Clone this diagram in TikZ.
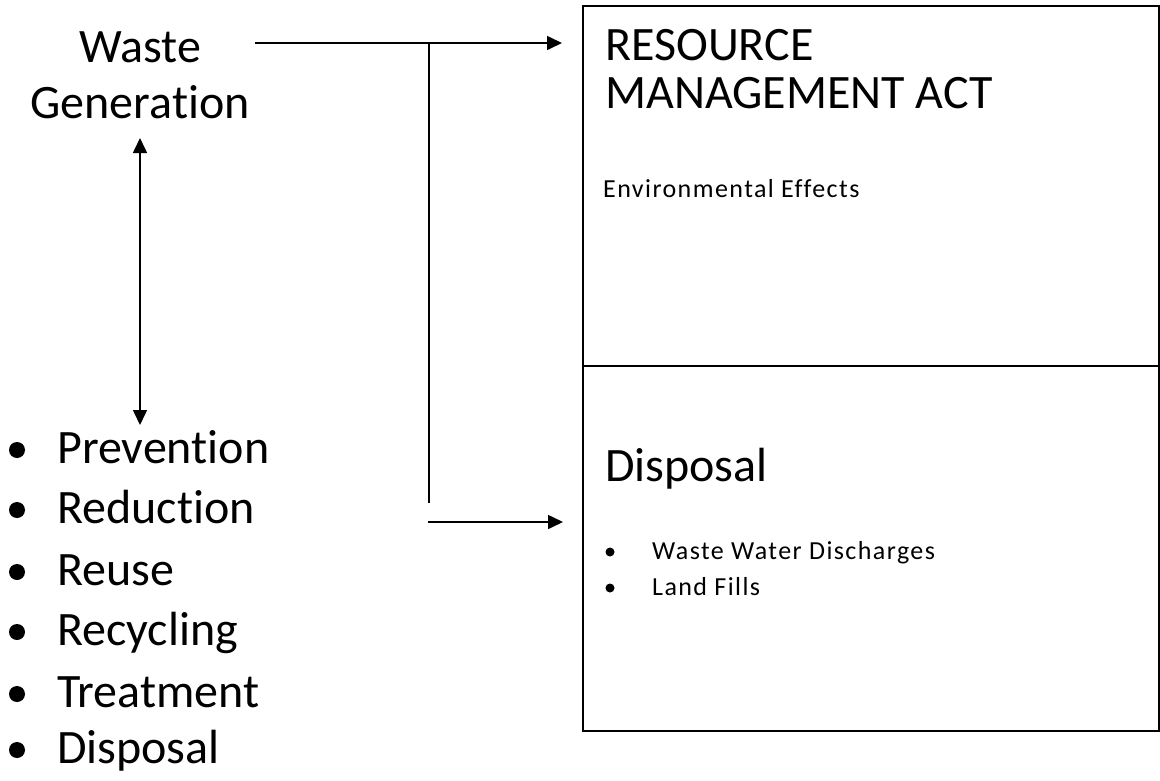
\documentclass[tikz,border=0pt]{standalone}
\usepackage{fontspec}
\setmainfont{Carlito}[Ligatures={NoCommon}]
\newfontfamily\smallfont{Carlito}[LetterSpace=5.5,Ligatures={NoCommon}]
\usetikzlibrary{arrows.meta}
\begin{document}
\begin{tikzpicture}[x=1pt,y=-1pt,
  big/.style={font=\fontsize{48}{58}\selectfont, inner sep=0pt, anchor=base west},
  small/.style={font=\smallfont\fontsize{26}{32}\selectfont, inner sep=0pt, anchor=base west},
  conn/.style={line width=1.6pt},
  tip/.style={-{Triangle[length=15pt,width=14pt]}},
  bothtips/.style={{Triangle[length=15pt,width=14pt]}-{Triangle[length=15pt,width=14pt]}},
  frame/.style={draw, line width=2pt, inner sep=0pt, anchor=north west, minimum width=576pt},
  bigdot/.style={circle, fill, inner sep=0pt, minimum size=16pt},
  smalldot/.style={circle, fill, inner sep=0pt, minimum size=9pt}]
\useasboundingbox (0,0) rectangle (1160,780);

% Resource Management Act panel, split in two
\node[frame, minimum height=360pt] (rma) at (582,5) {};
\node[frame, minimum height=365pt] (disp) at (582,365) {};

\node[big] (rmaA) at (605,60) {RESOURCE};
\node[big] (rmaB) at (605,108) {MANAGEMENT ACT};
\node[small] (env) at (603,197) {Environmental Effects};

\node[big] (dispT) at (605,481) {Disposal};
\node[smalldot] (b1) at (610,552) {};
\node[small] (ww) at (652,559) {Waste Water Discharges};
\node[smalldot] (b2) at (610,588) {};
\node[small] (lf) at (652,595) {Land Fills};

% Waste generation heading
\node[big, anchor=base] (w1) at (140,62) {Waste};
\node[big, anchor=base] (w2) at (140,118) {Generation};

% Waste hierarchy list
\foreach \t/\yy [count=\i] in {Prevention/463, Reduction/523, Reuse/585,
                               Recycling/645, Treatment/707, Disposal/763} {
  \node[bigdot] (dot\i) at (17,\yy-13) {};
  \node[big] (item\i) at (57,\yy) {\t};
}

% Connector end points
\coordinate (wOut) at (255,43);
\coordinate (rmaIn) at (562,43);
\coordinate (split) at (429,43);
\coordinate (splitEnd) at (429,503);
\coordinate (dispOut) at (428,522);
\coordinate (dispIn) at (563,522);
\coordinate (genBot) at (140,138);
\coordinate (listTop) at (140,425);

\draw[conn, tip] (wOut) -- (rmaIn);
\draw[conn] (split) -- (splitEnd);
\draw[conn, tip] (dispOut) -- (dispIn);
\draw[conn, bothtips] (genBot) -- (listTop);
\end{tikzpicture}
\end{document}
